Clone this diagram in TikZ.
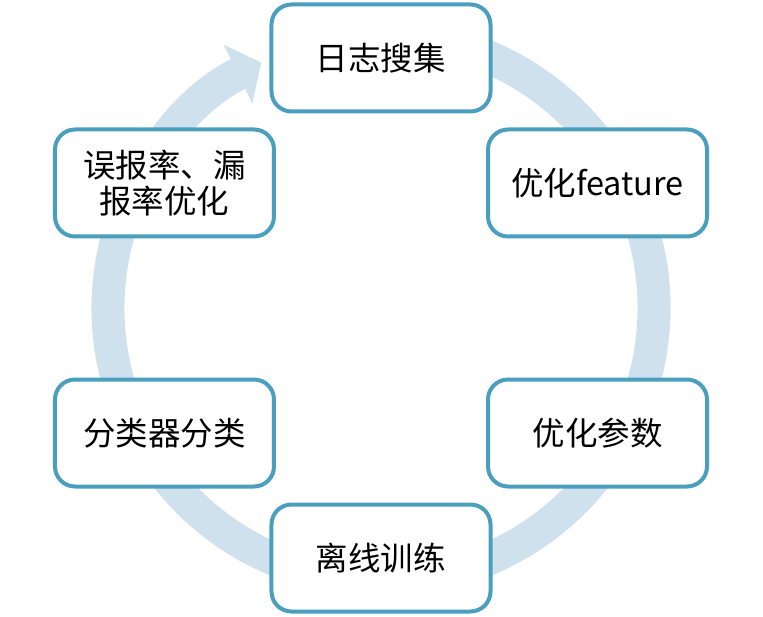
\documentclass[tikz,border=0pt]{standalone}
\usepackage{fontspec}
\setmainfont{Noto Sans CJK SC}
\usetikzlibrary{arrows.meta}
\definecolor{ringblue}{RGB}{207,225,236}
\definecolor{boxblue}{RGB}{75,159,190}
\begin{document}
\begin{tikzpicture}[x=1pt, y=1pt,
  stagebox/.style={draw=boxblue, line width=4pt, fill=white, rounded corners=20pt,
    minimum width=219pt, minimum height=107pt, align=center,
    font=\fontsize{32.5}{36}\selectfont}]
  \useasboundingbox (-381,-308) rectangle (382,308);

  % ring arrow behind the boxes
  \draw[ringblue, line width=33pt, -{Triangle[width=64pt,length=26pt]}]
    (80:273) arc (80:-244:273);

  % stages, clockwise from the top
  \node[stagebox] (logcollect) at (90:250) {日志搜集};
  \node[stagebox] (optfeature) at (30:250) {优化feature};
  \node[stagebox] (optparam)   at (-30:250) {优化参数};
  \node[stagebox] (offtrain)   at (-90:250) {离线训练};
  \node[stagebox] (classify)   at (-150:250) {分类器分类};
  \node[stagebox] (rateopt)    at (150:250) {误报率、漏\\报率优化};
\end{tikzpicture}
\end{document}
